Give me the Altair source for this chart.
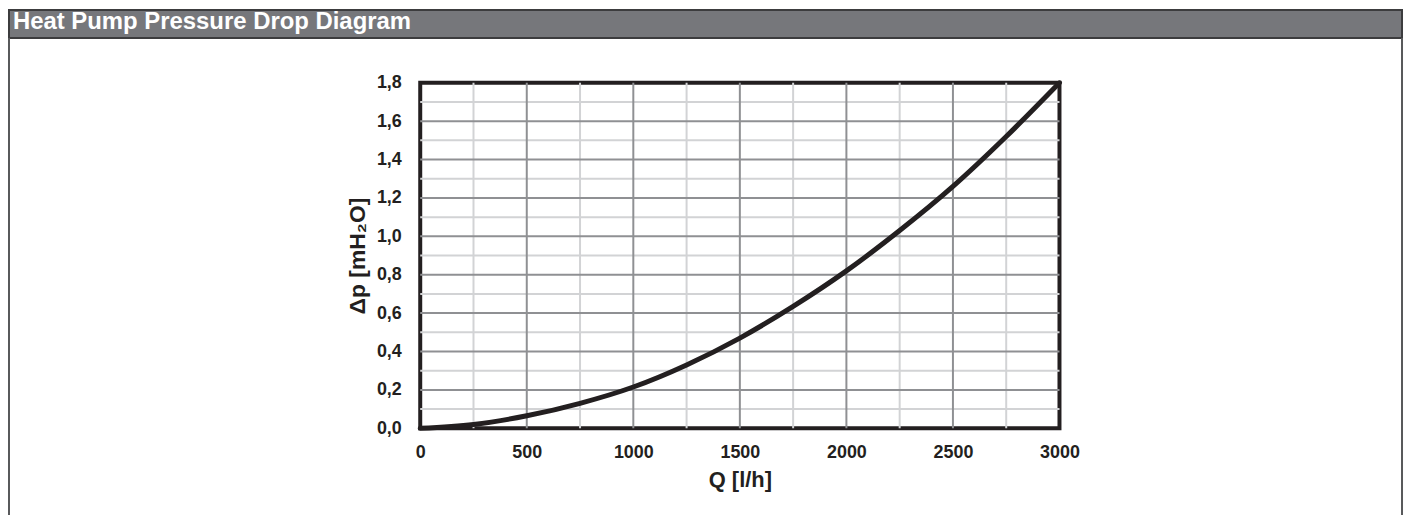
import altair as alt
import pandas as pd

# Curve data
flow_lh = [0, 250, 500, 750, 1000, 1250, 1500, 1750, 2000, 2250, 2500, 2750, 3000]
dp_mh2o = [0.0, 0.02, 0.065, 0.13, 0.215, 0.33, 0.47, 0.635, 0.82, 1.03, 1.26, 1.52, 1.8]

# Axis tick / grid values
x_ticks = [0, 500, 1000, 1500, 2000, 2500, 3000]
y_ticks = [0.0, 0.2, 0.4, 0.6, 0.8, 1.0, 1.2, 1.4, 1.6, 1.8]
x_major_grid = [500, 1000, 1500, 2000, 2500]
x_minor_grid = [250, 750, 1250, 1750, 2250, 2750]
y_major_grid = [0.2, 0.4, 0.6, 0.8, 1.0, 1.2, 1.4, 1.6]
y_minor_grid = [0.1, 0.3, 0.5, 0.7, 0.9, 1.1, 1.3, 1.5, 1.7]

TITLE = "Heat Pump Pressure Drop Diagram"
FONT = "Liberation Sans"
INK = "#231f20"

curve = pd.DataFrame({"Q": flow_lh, "dp": dp_mh2o})

xs = alt.Scale(domain=[0, 3000], nice=False, zero=False)
ys = alt.Scale(domain=[0, 1.8], nice=False, zero=False)

x_axis = alt.Axis(
    values=x_ticks, format="d", title="Q [l/h]", domain=False, ticks=False, tickSize=0,
    grid=False, labelFlush=False, labelOverlap=False,
    labelFont=FONT, labelFontSize=18, labelFontWeight="bold", labelColor=INK,
    labelBaseline="alphabetic", labelPadding=29,
    titleFont=FONT, titleFontSize=22, titleFontWeight="bold", titleColor=INK,
    titleBaseline="alphabetic", titleAlign="center", titleX=321, titleY=58,
)
y_axis = alt.Axis(
    values=y_ticks, labelExpr="replace(format(datum.value, '.1f'), '.', ',')",
    title="Δp [mH₂O]", domain=False, ticks=False, tickSize=0, grid=False,
    labelFlush=False, labelOverlap=False,
    labelFont=FONT, labelFontSize=18, labelFontWeight="bold", labelColor=INK,
    labelPadding=19, labelBaseline="middle",
    titleFont=FONT, titleFontSize=23, titleFontWeight="bold", titleColor=INK,
    titleAngle=270, titleBaseline="alphabetic", titleAlign="center",
    titleX=-56, titleY=173.5,
)

minor_x = alt.Chart(pd.DataFrame({"Q": x_minor_grid})).mark_rule(
    color="#d2d3d5", strokeWidth=2).encode(x=alt.X("Q:Q", scale=xs, axis=x_axis))
major_x = alt.Chart(pd.DataFrame({"Q": x_major_grid})).mark_rule(
    color="#8f9093", strokeWidth=2).encode(x=alt.X("Q:Q", scale=xs, axis=x_axis))
minor_y = alt.Chart(pd.DataFrame({"dp": y_minor_grid})).mark_rule(
    color="#d2d3d5", strokeWidth=2).encode(y=alt.Y("dp:Q", scale=ys, axis=y_axis))
major_y = alt.Chart(pd.DataFrame({"dp": y_major_grid})).mark_rule(
    color="#8f9093", strokeWidth=2).encode(y=alt.Y("dp:Q", scale=ys, axis=y_axis))

line = alt.Chart(curve).mark_line(
    color=INK, strokeWidth=5, interpolate="monotone", strokeCap="round"
).encode(
    x=alt.X("Q:Q", scale=xs, axis=x_axis),
    y=alt.Y("dp:Q", scale=ys, axis=y_axis),
)

header = alt.Chart(pd.DataFrame({"t": [TITLE]})).mark_rect(
    fill="#76777b", stroke="#3c3c3e", strokeWidth=2
).encode(x=alt.value(-413), x2=alt.value(986), y=alt.value(-73), y2=alt.value(-45))

header_text = alt.Chart(pd.DataFrame({"t": [TITLE]})).mark_text(
    align="left", baseline="alphabetic", font=FONT, fontSize=24,
    fontWeight="bold", color="white"
).encode(x=alt.value(-409), y=alt.value(-54), text="t:N")

left_border = alt.Chart(pd.DataFrame({"t": [0]})).mark_rule(
    color="#58595b", strokeWidth=2
).encode(x=alt.value(-413), y=alt.value(-45), y2=alt.value(440))
right_border = alt.Chart(pd.DataFrame({"t": [0]})).mark_rule(
    color="#58595b", strokeWidth=2
).encode(x=alt.value(986), y=alt.value(-45), y2=alt.value(440))

chart = alt.layer(
    minor_x, minor_y, major_x, major_y, line,
    header, header_text, left_border, right_border,
).properties(
    width=642, height=347,
    padding={"left": 414, "top": 74, "right": 346, "bottom": 86},
    autosize=alt.AutoSizeParams(type="none"),
    background="white",
).configure_view(
    stroke=INK, strokeWidth=4
)

chart.save("out.html", embed_options={"renderer": "svg", "actions": False})
